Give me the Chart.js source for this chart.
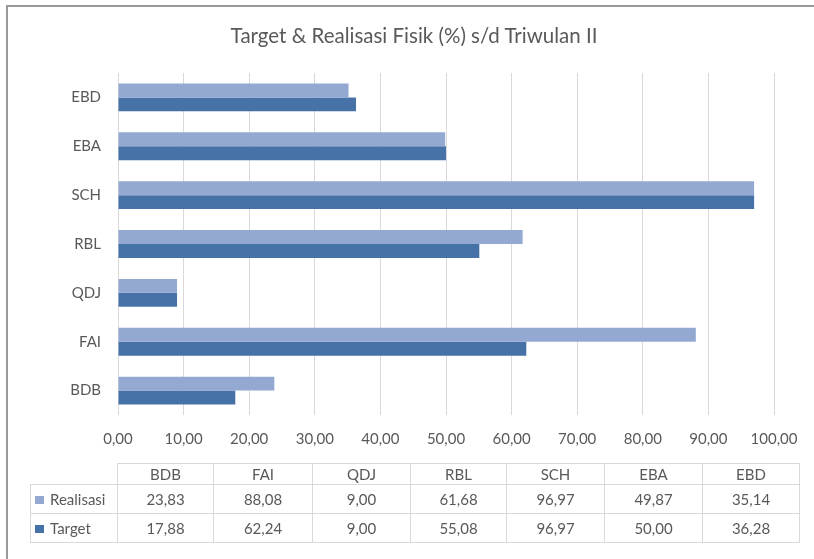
<!DOCTYPE html>
<html>
<head>
<meta charset="utf-8">
<script src="https://cdn.jsdelivr.net/npm/chart.js@4"></script>
<style>
  html, body { margin: 0; padding: 0; background: #fff; }
  #wrap { position: relative; width: 814px; height: 559px; overflow: hidden; }
  #frame { position: absolute; left: 6px; top: 5px; width: 820px; height: 570px;
           border-left: 2px solid #9a9a9a; border-top: 2px solid #9a9a9a; }
  canvas { position: absolute; left: 0; top: 0; }
  #title { position: absolute; left: 214px; width: 400px; top: 23px; height: 24px; line-height: 24px;
           text-align: center; font-family: Lato, "Open Sans", sans-serif; font-size: 20.5px; color: #595959;
           white-space: nowrap; }
  #tbl { position: absolute; left: 30px; top: 463px; border-collapse: collapse;
         font-family: Lato, "Open Sans", sans-serif; font-size: 15px; color: #595959; }
  #tbl td { border: 1px solid #d9d9d9; text-align: center; padding: 0; overflow: hidden; }
  #tbl tr.h td { height: 20px; line-height: 20px; }
  #tbl tr.r td { height: 28px; line-height: 28px; }
  #tbl td.blank { border-top: none; border-left: none; }
  #tbl td.leg { text-align: left; padding-left: 4px; white-space: nowrap; }
  .sw { display: inline-block; width: 9px; height: 8px; margin-right: 6px; vertical-align: 1px; }
</style>
</head>
<body>
<div id="wrap">
  <canvas id="c" width="814" height="559"></canvas>
  <div id="frame"></div>
  <div id="title"></div>
  <table id="tbl"></table>
</div>
<script>
const categories = ["BDB", "FAI", "QDJ", "RBL", "SCH", "EBA", "EBD"];
const realisasi = [23.83, 88.08, 9.00, 61.68, 96.97, 49.87, 35.14];
const target = [17.88, 62.24, 9.00, 55.08, 96.97, 50.00, 36.28];
const xTicks = [0, 10, 20, 30, 40, 50, 60, 70, 80, 90, 100];
const seriesNames = ["Realisasi", "Target"];
const titleText = "Target & Realisasi Fisik (%) s/d Triwulan II";

const colLight = "#93a9d1";
const colDark = "#4672a8";
const fmt = v => v.toFixed(2).replace(".", ",");
const FONT = "Lato, 'Open Sans', sans-serif";

document.getElementById("title").textContent = titleText;

new Chart(document.getElementById("c"), {
  type: "bar",
  data: {
    labels: categories,
    datasets: [
      { label: seriesNames[0], data: realisasi, backgroundColor: colLight, borderWidth: 0 },
      { label: seriesNames[1], data: target, backgroundColor: colDark, borderWidth: 0 }
    ]
  },
  options: {
    indexAxis: "y",
    responsive: false,
    animation: false,
    datasets: { bar: { barPercentage: 1.0, categoryPercentage: 0.57 } },
    layout: { padding: { left: 0, right: 40, top: 73, bottom: 0 } },
    plugins: {
      legend: { display: false },
      tooltip: { enabled: false },
      title: { display: false }
    },
    scales: {
      x: {
        min: 0, max: 100,
        afterBuildTicks: s => { s.ticks = xTicks.map(v => ({ value: v })); },
        afterFit: s => { s.height = 144; },
        grid: { color: "#d9d9d9", lineWidth: 1, drawTicks: false },
        border: { display: false },
        ticks: { padding: 15, color: "#595959", font: { family: FONT, size: 15 },
                 callback: v => fmt(v), maxRotation: 0 }
      },
      y: {
        reverse: true,
        afterFit: s => { s.width = 118; },
        grid: { display: false, drawTicks: false },
        border: { display: false },
        ticks: { padding: 17, color: "#595959", font: { family: FONT, size: 15 } }
      }
    }
  }
});

// Data table under the chart
const tbl = document.getElementById("tbl");
const colW = [87, 96, 99, 98, 96, 98, 98, 97];
let html = '<colgroup>' + colW.map(w => '<col style="width:' + w + 'px">').join('') + '</colgroup>';
html += '<tr class="h"><td class="blank"></td>' + categories.map(c => '<td>' + c + '</td>').join('') + '</tr>';
[[seriesNames[0], realisasi, colLight], [seriesNames[1], target, colDark]].forEach(([n, arr, col]) => {
  html += '<tr class="r"><td class="leg"><span class="sw" style="background:' + col + '"></span>' + n + '</td>' +
          arr.map(v => '<td>' + fmt(v) + '</td>').join('') + '</tr>';
});
tbl.innerHTML = html;
tbl.style.width = colW.reduce((a, b) => a + b, 0) + "px";
tbl.style.tableLayout = "fixed";
</script>
</body>
</html>
